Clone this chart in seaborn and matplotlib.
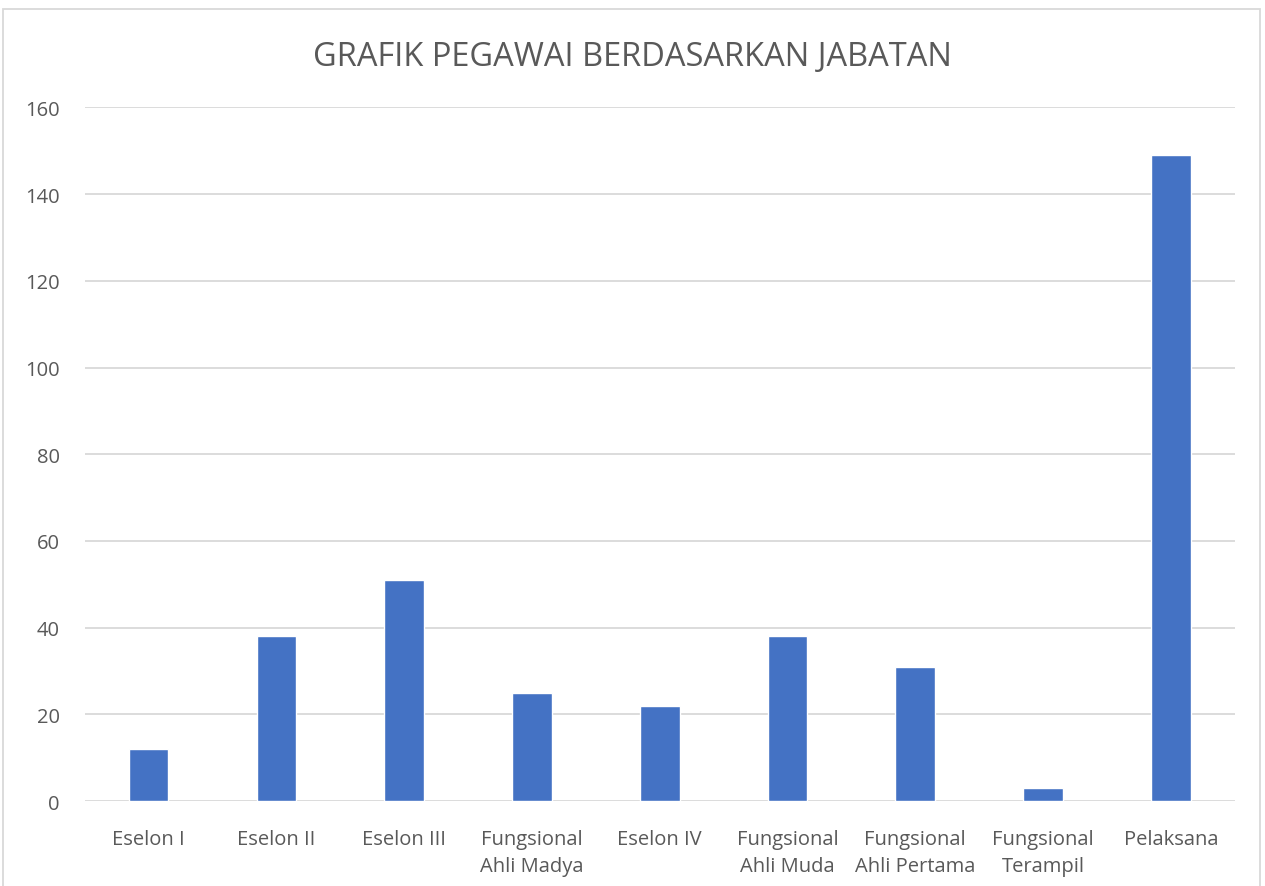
import matplotlib
matplotlib.use("Agg")
import matplotlib.pyplot as plt
import seaborn as sns
import pandas as pd
from matplotlib.patches import Rectangle

jabatan = ["Eselon I", "Eselon II", "Eselon III", "Fungsional\nAhli Madya", "Eselon IV",
           "Fungsional\nAhli Muda", "Fungsional\nAhli Pertama", "Fungsional\nTerampil", "Pelaksana"]
jumlah = [12, 38, 51, 25, 22, 38, 31, 3, 149]
y_ticks = [0, 20, 40, 60, 80, 100, 120, 140, 160]

df = pd.DataFrame({"Jabatan": jabatan, "Jumlah": jumlah})

sns.set_style("white")
plt.rcParams['font.family'] = ['Open Sans', 'DejaVu Sans']
text_col = "#595959"

fig = plt.figure(figsize=(12.65, 8.87), dpi=100)
ax = fig.add_axes([0.067, 0.0958, 0.909, 0.782])

sns.barplot(data=df, x="Jabatan", y="Jumlah", color="#4472C4", width=0.31,
            saturation=1, ax=ax, zorder=3)

ax.set_ylim(0, 160)
ax.set_yticks(y_ticks)
ax.set_xlim(-0.5, len(jabatan) - 0.5)
ax.grid(axis="y", color="#D9D9D9", linewidth=1.3, zorder=0)
ax.set_axisbelow(True)
for s in ax.spines.values():
    s.set_visible(False)
ax.tick_params(axis="both", length=0, labelsize=14.5, colors=text_col)
ax.tick_params(axis="x", pad=20)
ax.tick_params(axis="y", pad=18)
for lbl in ax.get_xticklabels():
    lbl.set_linespacing(1.45)
ax.set_xlabel("")
ax.set_ylabel("")

fig.text(0.5, 0.935, "GRAFIK PEGAWAI BERDASARKAN JABATAN", ha="center", va="center",
         fontsize=23.5, color=text_col)

fig.patches.append(Rectangle((3 / 1265, -0.01), 1257 / 1265, 1 - 10 / 887 + 0.01,
                             transform=fig.transFigure, fill=False,
                             edgecolor="#D9D9D9", linewidth=1.3))

fig.savefig("out.png", dpi=100)
